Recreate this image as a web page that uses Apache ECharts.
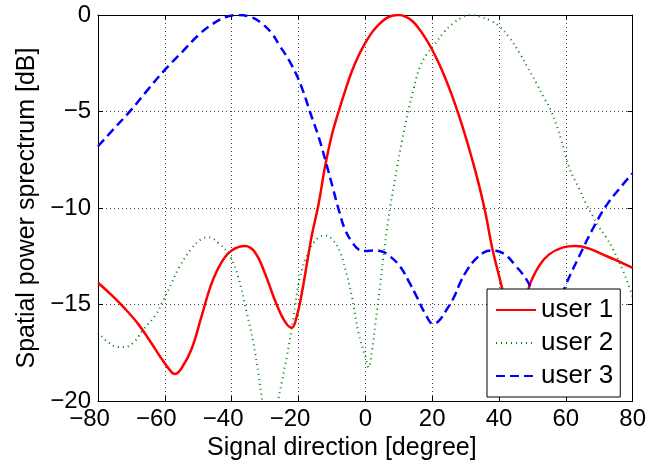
<!DOCTYPE html>
<html>
<head>
<meta charset="utf-8">
<script src="https://cdn.jsdelivr.net/npm/echarts@6/dist/echarts.min.js"></script>
<style>html,body{margin:0;padding:0;background:#fff}#c{width:649px;height:466px}</style>
</head>
<body>
<div id="c"></div>
<script>
const seriesNames = ['user 1', 'user 2', 'user 3'];
const xTicks = [-80, -60, -40, -20, 0, 20, 40, 60, 80];
const yTicks = [-20, -15, -10, -5, 0];

const user1X = [-80,-76,-72,-68,-64,-61,-58,-57,-55,-52,-49,-46,-43,-40,-36,-33,-30,-27,-24,-22,-20.5,-19,-17.5,-16,-14,-12,-10,-8,-6,-4,-2,0,2,4,6,8,10,12,14,16,18,20,22,24,26,28,30,32,34,36,38,40,42,44,45.5,47,49,52,55,59,63,67,71,75,80];
const user1Y = [-13.87,-14.5,-15.2,-16.0,-17.0,-17.8,-18.5,-18.6,-18.3,-17.3,-15.6,-13.9,-12.8,-12.2,-11.97,-12.3,-13.4,-14.8,-15.9,-16.2,-15.6,-14.4,-12.9,-11.4,-9.8,-7.8,-6.2,-5.0,-3.9,-2.9,-2.1,-1.45,-0.9,-0.5,-0.2,-0.04,0,-0.08,-0.3,-0.7,-1.2,-1.8,-2.5,-3.3,-4.2,-5.2,-6.3,-7.5,-8.8,-10.3,-12.1,-13.5,-14.9,-16.3,-17.0,-15.9,-14.1,-13.0,-12.4,-12.05,-11.97,-12.1,-12.4,-12.7,-13.1];

const user2X = [-80,-77,-74,-72,-69,-66.5,-63,-60.5,-58,-55.5,-52,-49,-47,-44,-40.5,-38,-35.5,-33.5,-32,-30.5,-28.5,-26.5,-25,-23.5,-21.6,-19.6,-17,-14.5,-12,-9.5,-7.5,-5.5,-4,-2,0,1,2,3,4.3,5.3,6.3,7.5,9.5,11,12.8,14.5,16.3,18.5,20.8,23.5,26.3,29,31.7,34.5,37.5,40.2,43,46.2,48.5,51.2,53.5,55.7,58.5,61,64,66,68,70,72,74,77,79,80];
const user2Y = [-16.45,-16.95,-17.2,-17.2,-16.9,-16.3,-15.6,-14.8,-13.9,-13.0,-12.1,-11.6,-11.52,-11.8,-12.5,-13.6,-15.4,-17.0,-18.6,-20.3,-22,-20.3,-19.0,-17.7,-15.8,-13.6,-12.3,-11.6,-11.42,-11.7,-12.3,-13.5,-14.6,-16.5,-17.7,-18.25,-17.4,-16.0,-14.2,-12.7,-11.3,-9.9,-7.9,-6.5,-5.0,-3.8,-2.7,-2.0,-1.5,-0.9,-0.43,-0.12,0,-0.1,-0.3,-0.6,-1.15,-1.98,-2.7,-3.53,-4.3,-5.0,-6.4,-7.9,-9.0,-9.75,-10.4,-11.0,-11.5,-12.1,-13.2,-14.1,-14.6];

const user3X = [-80,-75,-70,-65,-60,-55,-50,-46,-42,-38,-34,-31,-28,-25.6,-23,-20.6,-18.5,-16.6,-14,-11.6,-9.5,-8.1,-6.1,-4,-2,0,2.5,5,7,10.3,13,15.3,18,20.3,22,24,26.3,28.3,30.5,33,35.5,37.5,40,42.5,45,47,49.2,52,54.5,57,60.2,64,68,72,76,80];
const user3Y = [-6.8,-5.85,-4.9,-3.85,-2.84,-1.95,-1.05,-0.5,-0.12,0,-0.12,-0.43,-0.95,-1.6,-2.3,-3.1,-4.0,-5.0,-6.3,-7.75,-9.1,-10.0,-11.1,-11.75,-12.15,-12.22,-12.2,-12.25,-12.45,-13.0,-13.8,-14.56,-15.5,-16.0,-15.85,-15.35,-14.7,-13.9,-13.2,-12.65,-12.3,-12.2,-12.25,-12.5,-13.0,-13.4,-14.0,-15.2,-16.0,-15.4,-13.9,-12.5,-11.1,-9.9,-9.0,-8.2];

const FONT = 'Liberation Sans, Arial, Helvetica, sans-serif';
const zip = (xs, ys) => xs.map((x, i) => [x, ys[i]]);
const fmtNum = v => (v < 0 ? '\u2212' + Math.abs(v) : String(v));

const chart = echarts.init(document.getElementById('c'), null, {renderer: 'canvas'});
const gridLine = {show: true, lineStyle: {color: '#444', width: 1, type: [1, 3]}};
const frame = {show: true, onZero: false, lineStyle: {color: '#000', width: 1}};
const tick = {show: true, inside: true, length: 5, lineStyle: {color: '#000'}};

chart.setOption({
  animation: false,
  backgroundColor: '#fff',
  grid: {left: 98, top: 15, right: 16, bottom: 64, containLabel: false},
  xAxis: [{
    type: 'value', min: xTicks[0], max: xTicks[xTicks.length - 1], interval: 20,
    position: 'bottom', axisLine: frame, axisTick: tick, splitLine: gridLine,
    axisLabel: {
      margin: 6, fontSize: 24, fontFamily: FONT, color: '#000',
      formatter: v => v < 0 ? '{n|' + fmtNum(v) + '}' : fmtNum(v),
      rich: {n: {fontSize: 24, fontFamily: FONT, color: '#000', padding: [0, 17, 0, 0]}}
    },
    name: 'Signal direction [degree]', nameLocation: 'middle', nameGap: 32,
    nameTextStyle: {fontSize: 25, fontFamily: FONT, color: '#000', padding: [0, 47, 0, 0]}
  }, {
    type: 'value', min: xTicks[0], max: xTicks[xTicks.length - 1], interval: 20,
    position: 'top', axisLine: frame, axisTick: tick, splitLine: {show: false},
    axisLabel: {show: false}
  }],
  yAxis: [{
    type: 'value', min: yTicks[0], max: yTicks[yTicks.length - 1], interval: 5,
    position: 'left', axisLine: frame, axisTick: tick, splitLine: gridLine,
    axisLabel: {margin: 7, fontSize: 24, fontFamily: FONT, color: '#000', formatter: fmtNum},
    name: 'Spatial power sprectrum [dB]', nameLocation: 'middle', nameGap: 57,
    nameTextStyle: {fontSize: 25, fontFamily: FONT, color: '#000'}
  }, {
    type: 'value', min: yTicks[0], max: yTicks[yTicks.length - 1], interval: 5,
    position: 'right', axisLine: frame, axisTick: tick, splitLine: {show: false},
    axisLabel: {show: false}
  }],
  legend: {
    orient: 'vertical', left: 487, top: 289, padding: [8, 7, 8, 8],
    itemWidth: 40, itemHeight: 14, itemGap: 7,
    backgroundColor: '#fff', borderColor: '#000', borderWidth: 1, borderRadius: 0,
    itemStyle: {opacity: 0},
    textStyle: {fontSize: 26, fontFamily: FONT, color: '#000', lineHeight: 26},
    data: seriesNames
  },
  series: [{
    name: seriesNames[0], type: 'line', data: zip(user1X, user1Y), smooth: 0.4,
    symbol: 'none', clip: true, lineStyle: {color: '#ff0000', width: 2.5}, itemStyle: {color: '#ff0000'}
  }, {
    name: seriesNames[1], type: 'line', data: zip(user2X, user2Y), smooth: 0.4,
    symbol: 'none', clip: true, lineStyle: {color: '#008000', width: 2, type: [1, 4]}, itemStyle: {color: '#008000'}
  }, {
    name: seriesNames[2], type: 'line', data: zip(user3X, user3Y), smooth: 0.4,
    symbol: 'none', clip: true, lineStyle: {color: '#0000ff', width: 2.5, type: [9, 5]}, itemStyle: {color: '#0000ff'}
  }]
});
</script>
</body>
</html>
